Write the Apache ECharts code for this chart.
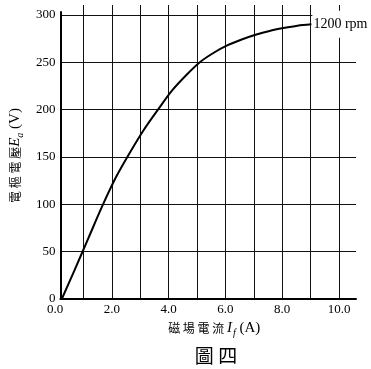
<!DOCTYPE html>
<html><head><meta charset="utf-8">
<script src="https://cdn.jsdelivr.net/npm/echarts@6/dist/echarts.min.js"></script>
<style>html,body{margin:0;padding:0;background:#fff}#c{width:371px;height:369px}</style>
</head><body><div id="c"></div>
<script>
// Field current (A) and armature voltage (V)
const fieldCurrent = [0.05, 0.5, 1.0, 1.5, 2.0, 2.5, 3.0, 3.5, 4.0, 4.5, 5.0, 5.5, 6.0, 6.5, 7.0, 7.5, 8.0, 8.5, 9.0];
const armatureVoltage = [0, 30, 64, 98, 129, 155, 179, 200, 220, 236, 250, 260, 268, 274, 279, 283, 286, 288.5, 290];
const curveLabel = '1200 rpm';
const yTicks = [0, 50, 100, 150, 200, 250, 300];
const xTickLabels = ['0.0', '2.0', '4.0', '6.0', '8.0', '10.0'];

const serif = '"Liberation Serif", "DejaVu Serif", serif';
const cjk = '"Noto Sans CJK TC", sans-serif';
const chart = echarts.init(document.getElementById('c'), null, {renderer: 'canvas'});
chart.setOption({
  animation: false,
  backgroundColor: '#fff',
  title: {
    text: '圖 四', left: 211, top: 341, textAlign: 'center',
    textStyle: {fontFamily: cjk, fontSize: 19, fontWeight: 'normal', color: '#000'}
  },
  grid: [
    {left: 55, right: 15, top: 12, bottom: 70},
    {left: 55, right: 32, top: 5, bottom: 70}
  ],
  xAxis: [
    {
      gridIndex: 0, type: 'value', min: 0, max: 10.6, interval: 1,
      axisLine: {lineStyle: {color: '#000', width: 2}},
      axisTick: {show: false}, axisLabel: {show: false}, splitLine: {show: false},
      name: '{c|磁 場 電 流 }{i|I}{s|f}{n| (A)}', nameLocation: 'middle', nameGap: 20,
      nameTextStyle: {
        padding: [0, 0, 0, 12],
        rich: {
          c: {fontFamily: cjk, fontSize: 12, color: '#000'},
          i: {fontFamily: serif, fontSize: 15, fontStyle: 'italic', color: '#000'},
          s: {fontFamily: serif, fontSize: 10, fontStyle: 'italic', color: '#000', padding: [9, 0, 0, 1]},
          n: {fontFamily: serif, fontSize: 15, color: '#000'}
        }
      }
    },
    {
      gridIndex: 1, type: 'value', min: 0, max: 10, interval: 1,
      axisLine: {show: false}, axisTick: {show: false},
      axisLabel: {
        margin: 4, fontFamily: serif, fontSize: 13, color: '#000',
        formatter: v => (Math.round(v) % 2 === 0 ? xTickLabels[Math.round(v) / 2] : '')
      },
      splitLine: {show: true, showMinLine: false, lineStyle: {color: '#111', width: 1}}
    }
  ],
  yAxis: [
    {
      gridIndex: 0, type: 'value', min: 0, max: 303, interval: 50,
      axisLine: {show: true, lineStyle: {color: '#000', width: 2}},
      axisTick: {show: false},
      axisLabel: {
        margin: 5, fontFamily: serif, fontSize: 13, color: '#000', showMaxLabel: false,
        formatter: v => (yTicks.indexOf(v) >= 0 ? String(v) : '')
      },
      splitLine: {show: true, showMinLine: false, showMaxLine: false, lineStyle: {color: '#111', width: 1}},
      name: '{c|電 樞 電 壓}{i|E}{s|a}{n| (V)}', nameLocation: 'middle', nameGap: 33, nameRotate: 90,
      nameTextStyle: {
        rich: {
          c: {fontFamily: cjk, fontSize: 12, color: '#000'},
          i: {fontFamily: serif, fontSize: 15, fontStyle: 'italic', color: '#000'},
          s: {fontFamily: serif, fontSize: 10, fontStyle: 'italic', color: '#000', padding: [9, 0, 0, 0]},
          n: {fontFamily: serif, fontSize: 15, color: '#000'}
        }
      }
    },
    {
      gridIndex: 1, type: 'value', min: 0, max: 312, show: false
    }
  ],
  series: [{
    type: 'line', xAxisIndex: 0, yAxisIndex: 0, smooth: 0.3, showSymbol: false,
    lineStyle: {color: '#000', width: 2},
    data: fieldCurrent.map((x, i) => [x, armatureVoltage[i]]),
    endLabel: {
      show: true, formatter: curveLabel, distance: 1,
      fontFamily: serif, fontSize: 14, color: '#000',
      backgroundColor: '#fff', padding: [7, 2, 6, 1]
    }
  }]
});
</script></body></html>
